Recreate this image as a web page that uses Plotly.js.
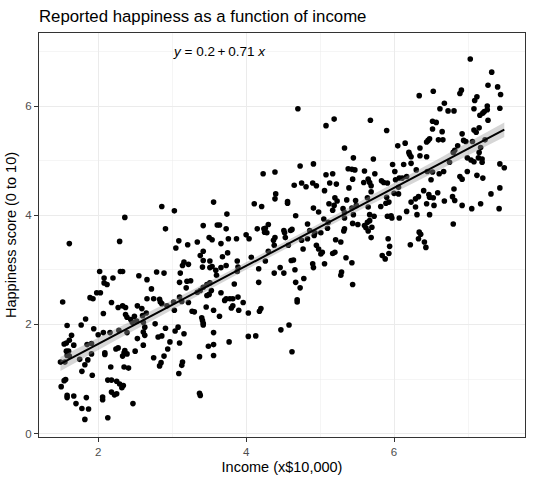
<!DOCTYPE html>
<html>
<head>
<meta charset="utf-8">
<script src="https://cdn.plot.ly/plotly-3.0.1.min.js"></script>
<style>
  html, body { margin: 0; padding: 0; background: #ffffff; }
  #chart { width: 533px; height: 482px; }
</style>
</head>
<body>
<div id="chart"></div>
<script>
// ---- Data (income in $10,000 units, happiness 0-10) ----
// Low-income band (about 1.5 to 2.7)
var incomeLow = [
  1.61,2.29,2.02,2.30,2.33,2.08,2.20,2.08,2.12,2.55,
  2.66,1.98,2.03,1.89,1.93,1.52,2.66,2.18,2.27,2.33,
  2.37,2.53,2.59,2.07,2.37,2.39,2.49,2.44,2.60,2.65,
  1.83,1.58,1.77,1.94,2.00,2.07,2.16,2.28,2.39,2.46,
  2.52,2.61,2.63,2.61,2.63,1.64,1.61,1.57,1.54,1.67,
  1.85,1.91,2.53,2.61,1.57,1.60,1.58,1.61,1.91,2.09,
  2.09,2.24,2.27,2.36,2.35,2.39,2.33,2.50,1.49,1.55,
  1.75,1.86,1.82,1.78,1.92,2.17,2.35,2.41,1.56,1.54,
  1.50,2.13,2.18,2.25,2.29,2.34,2.32,2.18,2.22,2.25,
  1.58,1.58,1.67,1.84,2.06,2.06,1.70,1.78,1.87,2.47,
  1.82,2.13,2.36
];
var happinessLow = [
  3.48,3.52,2.97,2.97,2.97,2.85,2.85,2.76,2.73,2.89,
  2.82,2.58,2.58,2.49,2.47,2.41,2.47,2.40,2.31,2.34,
  2.31,2.34,2.29,2.20,2.18,2.13,2.15,2.09,2.16,2.21,
  2.10,1.98,1.99,1.92,1.81,1.85,1.85,1.89,1.85,2.04,
  2.06,2.04,1.95,1.86,1.80,1.80,1.71,1.66,1.64,1.62,
  1.63,1.65,1.74,1.62,1.51,1.51,1.43,1.42,1.46,1.48,
  1.45,1.55,1.57,1.52,1.48,1.46,1.42,1.51,1.31,1.31,
  1.36,1.35,1.26,1.14,1.07,1.22,1.22,1.20,0.99,0.97,
  0.86,0.98,0.98,0.96,0.91,0.88,0.84,0.76,0.71,0.73,
  0.70,0.66,0.69,0.66,0.67,0.62,0.55,0.46,0.45,0.55,
  0.26,0.29,3.96
];
// Lower-middle band (about 2.7 to 3.9)
var incomeMid1 = [
  2.86,3.03,3.56,3.74,2.91,3.42,3.61,3.64,3.73,3.09,
  3.05,3.21,3.34,3.50,3.54,3.66,3.76,3.87,3.42,3.38,
  3.75,3.68,3.16,3.14,3.22,3.42,3.41,3.51,3.51,3.54,
  3.59,3.60,3.66,3.73,3.88,3.89,3.88,2.79,2.89,2.72,
  3.11,3.10,3.20,3.25,3.19,2.75,2.83,2.84,2.86,2.93,
  3.02,3.03,3.10,3.13,3.22,3.27,3.30,3.34,3.38,3.42,
  3.47,3.51,3.47,3.50,3.53,3.46,3.40,3.41,3.42,3.42,
  3.56,3.64,3.66,3.71,3.73,3.78,3.82,3.80,3.82,3.84,
  3.89,3.90,2.77,2.81,2.86,2.91,3.04,3.08,3.16,2.97,
  2.94,3.10,2.75,2.89,2.85,2.83,3.14,3.13,3.09,3.37,
  3.49,3.56,3.56,3.56,3.77,3.37,3.38
];
var happinessMid1 = [
  4.16,4.08,4.24,4.02,3.75,3.81,3.82,3.82,3.75,3.53,
  3.40,3.46,3.51,3.59,3.55,3.48,3.57,3.57,3.34,3.26,
  3.31,3.24,3.14,3.08,3.10,3.17,3.05,3.16,3.04,3.06,
  2.99,2.90,3.04,3.08,3.16,3.05,2.97,2.96,2.94,2.65,
  2.94,2.77,2.79,2.80,2.67,2.47,2.46,2.41,2.38,2.34,
  2.41,2.26,2.50,2.42,2.40,2.24,2.23,2.59,2.62,2.68,
  2.73,2.76,2.53,2.55,2.62,2.32,2.12,2.07,2.02,1.99,
  2.26,2.15,2.58,2.44,2.47,2.47,2.47,2.30,2.34,2.74,
  2.50,2.26,2.01,1.77,1.79,1.93,1.88,1.95,1.83,1.68,
  1.55,1.66,1.39,1.42,1.30,1.24,1.31,1.25,1.10,1.41,
  1.60,1.63,1.43,1.85,1.68,0.74,0.70
];
// Middle band (about 3.9 to 5.15)
var incomeMid2 = [
  4.70,5.08,4.73,4.91,4.23,4.39,5.08,4.65,4.75,4.81,
  4.90,4.95,5.13,5.06,4.40,4.39,4.11,4.21,4.56,4.56,
  4.91,4.98,5.12,4.67,4.30,4.26,4.15,4.24,4.25,4.28,
  4.00,4.51,4.52,4.60,4.62,4.83,4.86,5.05,5.11,4.93,
  5.01,5.10,
  4.04,4.39,4.37,4.53,4.75,4.83,4.92,4.38,4.30,4.57,
  4.77,4.95,4.98,5.03,5.01,4.07,4.26,4.61,4.64,4.17,
  4.46,4.38,4.51,4.66,4.90,4.91,5.06,4.17,4.67,4.78,
  4.73,3.96,4.69,4.69,4.03,4.18,4.20,4.47,4.58,4.03,
  4.13,4.62
];
var happinessMid2 = [
  5.95,5.64,4.90,4.94,4.76,4.79,4.74,4.55,4.59,4.52,
  4.59,4.54,4.59,4.45,4.39,4.30,4.21,4.16,4.25,4.22,
  4.13,4.06,4.21,3.99,3.83,3.76,3.75,3.75,3.69,3.68,
  3.64,3.72,3.68,3.72,3.74,3.84,3.72,3.93,3.87,3.68,
  3.68,3.76,
  3.57,3.59,3.54,3.59,3.54,3.57,3.63,3.45,3.34,3.45,
  3.38,3.45,3.38,3.32,3.29,3.23,3.16,3.17,3.18,3.02,
  3.04,2.94,2.94,3.00,3.11,3.04,3.11,2.77,2.77,2.84,
  2.67,2.40,2.45,2.41,2.21,2.24,2.29,1.90,1.99,1.78,
  1.79,1.50
];
// Upper-middle band (about 5.15 to 6.4)
var incomeMid3 = [
  6.34,5.19,5.68,5.90,5.33,5.45,5.72,6.05,6.15,6.20,
  6.21,6.23,6.35,6.35,5.17,5.38,5.43,5.47,5.60,5.74,
  5.98,6.13,6.01,6.23,6.30,5.22,5.44,5.65,5.59,5.67,
  5.83,5.86,5.91,6.02,6.07,6.11,6.17,6.06,5.39,5.69,
  5.69,6.00,6.06,6.40,6.33,5.20,5.23,5.36,5.48,5.64,
  5.90,5.19,5.17,5.31,5.33,5.43,5.49,5.65,5.82,5.89,
  5.93,6.17,6.23,6.29,6.29,
  5.33,5.45,5.44,5.51,5.67,5.73,5.64,5.67,5.60,5.62,
  5.65,5.70,5.91,5.96,5.97,6.07,6.31,5.33,5.32,5.21,
  5.28,5.69,5.92,5.94,5.93,5.84,5.88,6.22,6.34,6.36,
  6.33,6.41,5.17,5.20,5.35,5.43,5.29,5.28,5.44
];
var happinessMid3 = [
  6.19,5.76,5.74,5.55,5.23,5.05,5.03,5.27,5.32,5.15,
  5.11,5.07,5.23,5.09,4.76,4.85,4.84,4.83,4.81,4.76,
  4.93,4.93,4.80,4.95,4.83,4.57,4.66,4.66,4.60,4.60,
  4.63,4.60,4.59,4.65,4.68,4.68,4.71,4.51,4.50,4.54,
  4.43,4.40,4.39,4.45,4.34,4.32,4.26,4.28,4.27,4.32,
  4.33,4.18,4.09,4.12,4.05,4.13,4.18,4.15,4.16,4.22,
  4.24,4.07,4.24,4.30,4.15,
  3.95,4.01,3.85,3.83,4.01,3.98,3.87,3.90,3.81,3.77,
  3.71,3.78,3.98,3.99,3.95,3.95,4.01,3.75,3.71,3.55,
  3.51,3.59,3.57,3.43,3.30,3.26,3.20,3.46,3.69,3.65,
  3.57,3.51,3.30,3.32,3.22,3.13,2.96,2.90,2.73
];
// High-income band (about 6.4 to 7.5)
var incomeHigh = [
  7.03,7.32,7.27,7.40,7.44,6.53,6.91,6.89,7.12,7.09,
  6.68,6.62,6.73,6.81,7.08,7.26,7.26,7.22,7.20,7.16,
  7.43,7.27,6.52,6.57,6.52,6.65,7.08,7.11,7.15,6.92,
  6.48,6.46,6.44,6.60,6.66,6.94,6.97,7.06,7.23,6.86,
  7.17,6.82,
  6.44,6.80,7.15,6.99,7.04,7.08,7.14,7.19,7.19,7.43,
  7.49,6.75,6.45,6.52,6.61,6.67,6.99,6.50,6.89,6.92,
  7.12,7.20,6.81,7.43,7.31,6.59,6.47,6.48,6.53,6.79,
  6.82,6.68,6.44,6.54,6.92,7.05,7.17,7.42,6.48,6.80,
  6.43
];
var happinessHigh = [
  6.86,6.62,6.38,6.35,6.21,6.27,6.29,6.23,6.17,6.10,
  6.05,5.95,5.91,5.91,5.95,6.00,5.93,5.90,5.87,5.83,
  5.96,5.74,5.72,5.70,5.58,5.53,5.56,5.52,5.60,5.49,
  5.40,5.37,5.34,5.38,5.38,5.37,5.35,5.35,5.38,5.27,
  5.24,5.19,
  5.07,5.15,5.15,5.05,5.01,4.98,5.05,5.03,4.97,4.94,
  4.87,4.97,4.80,4.79,4.76,4.80,4.80,4.65,4.71,4.66,
  4.73,4.68,4.48,4.50,4.39,4.41,4.38,4.33,4.32,4.34,
  4.27,4.26,4.21,4.18,4.18,4.12,4.21,4.12,4.01,3.84,
  3.41
];

var xTicks = [2, 4, 6];
var yTicks = [0, 2, 4, 6];
var xMinor = [3, 5, 7];
var yMinor = [1, 3, 5, 7];
var titleText = 'Reported happiness as a function of income';
var xTitle = 'Income (x$10,000)';
var yTitle = 'Happiness score (0 to 10)';
var eqText = '<i>y</i> = 0.2\u2009+\u20090.71 <i>x</i>';

// ---- combine ----
var income = [].concat(incomeLow, incomeMid1, incomeMid2, incomeMid3, incomeHigh);
var happiness = [].concat(happinessLow, happinessMid1, happinessMid2, happinessMid3, happinessHigh);

// ---- least squares fit with 95% confidence band (like geom_smooth(method="lm")) ----
var n = Math.min(income.length, happiness.length);
var sx = 0, sy = 0;
for (var i = 0; i < n; i++) { sx += income[i]; sy += happiness[i]; }
var xbar = sx / n, ybar = sy / n;
var sxx = 0, sxy = 0;
for (i = 0; i < n; i++) { sxx += (income[i] - xbar) * (income[i] - xbar); sxy += (income[i] - xbar) * (happiness[i] - ybar); }
var slope = sxy / sxx, intercept = ybar - slope * xbar;
var sse = 0;
for (i = 0; i < n; i++) { var r = happiness[i] - (intercept + slope * income[i]); sse += r * r; }
var sres = Math.sqrt(sse / (n - 2));
var tcrit = 1.965;
var xmin = Math.min.apply(null, income), xmax = Math.max.apply(null, income);
var fx = [], fy = [], up = [], lo = [];
var steps = 80;
for (i = 0; i <= steps; i++) {
  var xv = xmin + (xmax - xmin) * i / steps;
  var yv = intercept + slope * xv;
  var se = sres * Math.sqrt(1 / n + (xv - xbar) * (xv - xbar) / sxx);
  fx.push(xv); fy.push(yv); up.push(yv + tcrit * se); lo.push(yv - tcrit * se);
}
var bandX = fx.concat(fx.slice().reverse());
var bandY = up.concat(lo.slice().reverse());

var font = 'Liberation Sans, Arial, Helvetica, sans-serif';

var traces = [
  { type: 'scatter', mode: 'markers', x: income.slice(0, n), y: happiness.slice(0, n),
    marker: { color: '#000000', size: 5.6, line: { width: 0 } }, hoverinfo: 'x+y', showlegend: false },
  { type: 'scatter', mode: 'lines', x: bandX, y: bandY, fill: 'toself',
    fillcolor: 'rgba(153,153,153,0.4)', line: { width: 0, color: 'rgba(0,0,0,0)' }, hoverinfo: 'skip', showlegend: false },
  { type: 'scatter', mode: 'lines', x: fx, y: fy,
    line: { color: '#000000', width: 2 }, hoverinfo: 'skip', showlegend: false }
];

var axisCommon = {
  showline: true, mirror: true, linecolor: '#333333', linewidth: 1,
  showgrid: true, gridcolor: '#ebebeb', gridwidth: 1,
  zeroline: false, ticks: 'outside', ticklen: 4, tickwidth: 1, tickcolor: '#333333',
  tickfont: { family: font, size: 11.5, color: '#4d4d4d' }
};

var layout = {
  width: 533, height: 482,
  paper_bgcolor: '#ffffff', plot_bgcolor: '#ffffff',
  margin: { l: 39.3, r: 8, t: 32.7, b: 45.3, pad: 0 },
  showlegend: false,
  font: { family: font, color: '#000000' },
  title: { text: titleText, font: { family: font, size: 16.8, color: '#000000' },
           x: 0, xref: 'paper', xanchor: 'left', y: 0.967, yref: 'container', yanchor: 'middle' },
  xaxis: Object.assign({}, axisCommon, {
    range: [1.2, 7.77], tickmode: 'array', tickvals: xTicks, ticktext: xTicks.map(String),
    minor: { tickmode: 'array', tickvals: xMinor, showgrid: true, gridcolor: '#ebebeb', gridwidth: 0.5, ticks: '' },
    title: { text: xTitle, font: { family: font, size: 14.5, color: '#000000' }, standoff: 5 }
  }),
  yaxis: Object.assign({}, axisCommon, {
    range: [-0.062, 7.337], tickmode: 'array', tickvals: yTicks, ticktext: yTicks.map(String),
    minor: { tickmode: 'array', tickvals: yMinor, showgrid: true, gridcolor: '#ebebeb', gridwidth: 0.5, ticks: '' },
    title: { text: yTitle, font: { family: font, size: 14.5, color: '#000000' }, standoff: 5 }
  }),
  annotations: [
    { text: eqText, x: 3.64, y: 7.0, xref: 'x', yref: 'y', showarrow: false,
      xanchor: 'center', yanchor: 'middle', font: { family: font, size: 13.5, color: '#000000' } }
  ]
};

Plotly.newPlot('chart', traces, layout, { staticPlot: true, displayModeBar: false });
</script>
</body>
</html>
